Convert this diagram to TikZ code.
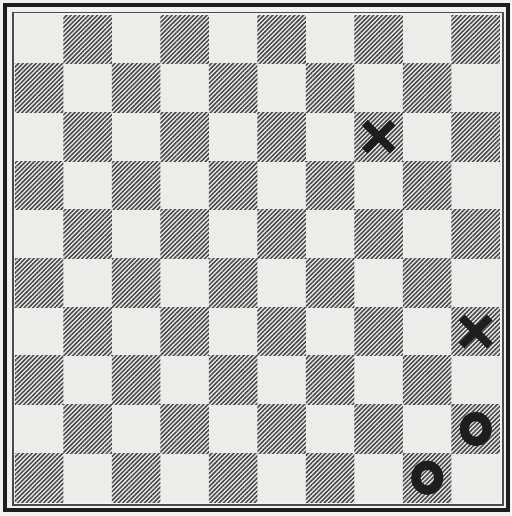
\documentclass[tikz,border=0pt]{standalone}
\usetikzlibrary{patterns.meta,calc}
\definecolor{paper}{RGB}{241,241,239}
\definecolor{lightsq}{RGB}{236,236,234}
\definecolor{ink}{RGB}{30,30,30}
\definecolor{hatch}{RGB}{70,70,70}
\tikzset{
  lsq/.style={fill=lightsq},
  dsq/.style={pattern={Lines[angle=45,distance=1.55pt,line width=0.75pt]},pattern color=hatch},
  rimout/.style={draw=ink,line width=2pt},
  rimin/.style={draw=ink!80,line width=0.7pt},
  crossmk/.style={draw=ink,line width=4pt},
  ringmk/.style={draw=ink,line width=4.6pt},
}
\begin{document}
\begin{tikzpicture}[x=0.5pt,y=-0.5pt]
\useasboundingbox (0,0) rectangle (511,516);
\fill[paper] (0,0) rectangle (511,516);
% board
\fill[lsq] (15,15) rectangle (500,502);
\foreach \r in {0,...,9}
  \foreach \c in {0,...,9} {
    \pgfmathtruncatemacro\odd{mod(\r+\c,2)}
    \ifnum\odd=1
      \fill[dsq] ({15+48.5*\c},{15+48.7*\r}) rectangle ++(48.5,48.7);
    \fi
  }
% frame
\draw[rimout] (5,5) rectangle (508,510);
\draw[ink,line width=1.5pt] (4.5,4) -- (4.5,512);
\draw[rimin] (13,12.5) rectangle (503,505);
% pieces
\foreach \r/\c in {2/7,6/9} {
  \coordinate (x\r) at ({15+48.5*(\c+0.5)},{15+48.7*(\r+0.5)});
  \draw[crossmk] ($(x\r)+(-14,-14)$) -- ($(x\r)+(14,14)$);
  \draw[crossmk] ($(x\r)+(-14,14)$) -- ($(x\r)+(14,-14)$);
}
\foreach \r/\c in {8/9,9/8} {
  \coordinate (o\r) at ({15+48.5*(\c+0.5)},{15+48.7*(\r+0.5)});
  \draw[ringmk] (o\r) ellipse [x radius=11.5,y radius=12.5];
}
\end{tikzpicture}
\end{document}
